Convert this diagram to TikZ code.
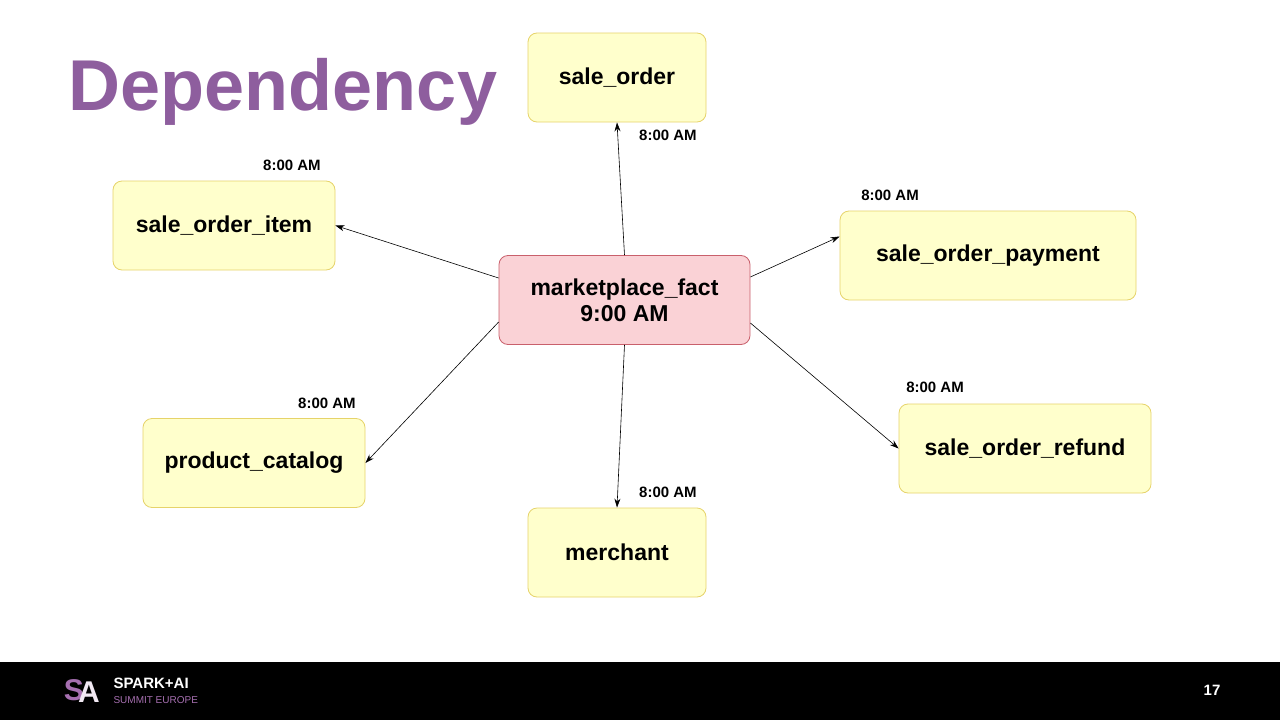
\documentclass[tikz,border=0pt]{standalone}
\usepackage{fontspec}
\setmainfont{Liberation Sans}
\usetikzlibrary{arrows.meta}
\definecolor{ybox}{HTML}{FFFFCC}
\definecolor{ybord}{HTML}{E6D36A}
\definecolor{pbox}{HTML}{FAD2D6}
\definecolor{pbord}{HTML}{C9606C}
\definecolor{ttl}{HTML}{8E5E9E}
\definecolor{lgp}{HTML}{A66FB0}
\begin{document}
\begin{tikzpicture}[x=1pt,y=-1pt,
 tbl/.style={draw=ybord,fill=ybox,rounded corners=9pt,line width=0.8pt,minimum height=89pt,font=\fontsize{23}{26}\bfseries,align=center},
 fact/.style={tbl,draw=pbord,fill=pbox},
 tm/.style={font=\fontsize{15}{17}\bfseries},
 arr/.style={-{Stealth[length=9pt,width=6pt]},line width=0.6pt}]
\useasboundingbox (0,0) rectangle (1280,720);
\fill[black] (0,662) rectangle (1280,720);
\node[text=ttl,font=\fontsize{72}{80}\bfseries] (title) at (283,92) {Dependency};
\node[tbl,minimum width=178pt] (so) at (617,77.5) {sale\_order};
\node[tbl,minimum width=222pt] (soi) at (224,225.5) {sale\_order\_item};
\node[tbl,minimum width=296pt] (sop) at (988,255.5) {sale\_order\_payment};
\node[fact,minimum width=251pt] (f) at (624.5,300) {marketplace\_fact\\9:00 AM};
\node[tbl,minimum width=222pt] (pc) at (254,463) {product\_catalog};
\node[tbl,minimum width=252pt] (sor) at (1025,448.5) {sale\_order\_refund};
\node[tbl,minimum width=178pt] (m) at (617,552.5) {merchant};
\coordinate (fnw) at ([yshift=22pt]f.west);
\coordinate (fsw) at ([yshift=-22pt]f.west);
\coordinate (fne) at ([yshift=23pt]f.east);
\coordinate (fse) at ([yshift=-23pt]f.east);
\coordinate (sopw) at ([yshift=19pt]sop.west);
\draw[arr] (f.north) -- (so.south);
\draw[arr] (fnw) -- (soi.east);
\draw[arr] (fne) -- (sopw);
\draw[arr] (fsw) -- (pc.east);
\draw[arr] (fse) -- (sor.west);
\draw[arr] (f.south) -- (m.north);
\node[tm] (t1) at (668,135) {8:00 AM};
\node[tm] (t2) at (292,165) {8:00 AM};
\node[tm] (t3) at (890,195) {8:00 AM};
\node[tm] (t4) at (327,403) {8:00 AM};
\node[tm] (t5) at (935,387) {8:00 AM};
\node[tm] (t6) at (668,492) {8:00 AM};
\node[text=lgp,font=\fontsize{30}{30}\bfseries] (lgs) at (74,690) {S};
\node[text=white!85!lgp,font=\fontsize{30}{30}\bfseries] (lga) at (89,692) {A};
\node[anchor=west,text=white,font=\fontsize{15}{15}\bfseries] (l1) at (110,683) {SPARK+AI};
\node[anchor=west,text=lgp,font=\fontsize{15}{15}] (l2) at (110,700) {SUMMIT EUROPE};
\node[text=white,font=\fontsize{15}{15}\bfseries] (pg) at (1212,690) {17};
\end{tikzpicture}
\end{document}
